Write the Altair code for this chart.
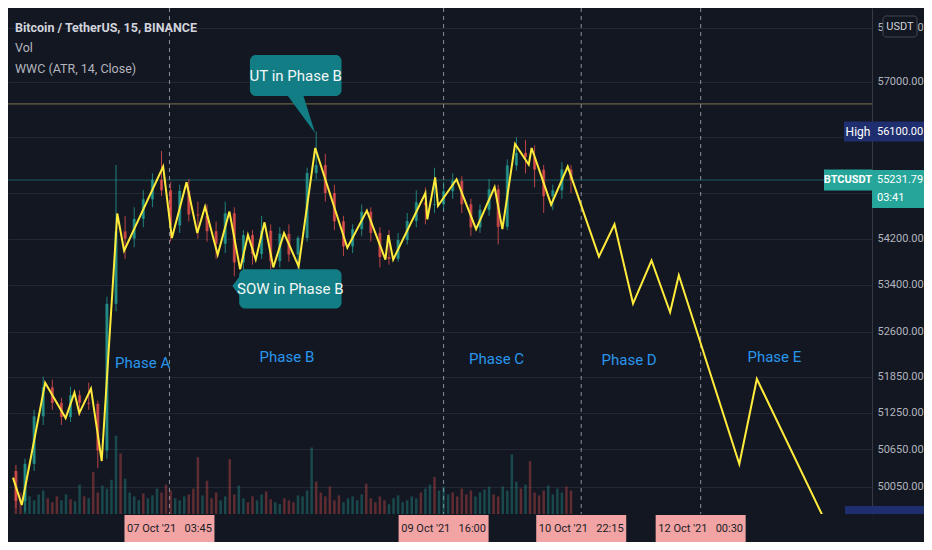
import altair as alt
import pandas as pd

W, H = 864, 506
RP = 52
BG = "#131722"
FONT = "Roboto"
GREEN = "#26a69a"
RED = "#ef5350"
YELLOW = "#ffeb3b"
TEAL = "#127d85"
NAVY = "#1f2e6e"
SALMON = "#f2a3a3"
AXIS_TXT = "#b2b5be"
GRID = "#232733"

# ---- time is in hours after 06 Oct 2021 00:00 ----
# 2-hour candles
candle_t = [-6, -4, -2, 0, 2, 4, 6, 8, 10, 12, 14, 16, 18, 20, 22, 24, 26, 28, 30, 32,
            34, 36, 38, 40, 42, 44, 46, 48, 50, 52, 54, 56, 58, 60, 62, 64, 66, 68, 70, 72,
            74, 76, 78, 80, 82, 84, 86, 88, 90, 92, 94, 96, 98, 100, 102, 104, 106, 108, 110, 112,
            114, 116]
candle_open = [50300, 49820, 50417, 51192, 51672, 51414, 51179, 51540, 51414, 51398,
               50633, 53077, 54328, 54201, 54546, 54891, 55236, 55051, 54432, 55040,
               54624, 54607, 54331, 54112, 54645, 53789, 54264, 53935, 54340, 53811,
               54285, 53925, 54212, 55357, 55500, 55002, 54504, 54065, 54368, 54671,
               54301, 53882, 53851, 54180, 54509, 54838, 54788, 54803, 55033, 55214,
               54804, 54395, 54705, 55069, 54409, 55491, 55716, 55641, 55416, 54946,
               55048, 55419]
candle_high = [50400, 50500, 51300, 51850, 51800, 51500, 51680, 51620, 51750, 51450,
               53200, 55500, 54600, 54750, 55050, 55350, 55750, 55200, 55150, 55250,
               54850, 54800, 54500, 54850, 54750, 54350, 54350, 54600, 54450, 54400,
               54450, 54250, 55450, 56100, 55700, 55150, 54600, 54450, 54800, 54750,
               54400, 54350, 54300, 54650, 55050, 55100, 55450, 55200, 55350, 55300,
               54900, 54800, 55250, 55150, 55600, 56000, 55950, 55850, 55500, 55150,
               55550, 55500]
candle_low = [49700, 49650, 50300, 51050, 51300, 51050, 51100, 51200, 51300, 50350,
              50500, 52950, 53850, 54050, 54400, 54750, 54950, 54150, 54300, 54500,
              54200, 54150, 53850, 53950, 53550, 53650, 53750, 53850, 53600, 53700,
              53800, 53650, 54150, 55250, 54850, 54350, 53900, 53950, 54250, 54150,
              53700, 53750, 53800, 54100, 54400, 54450, 54650, 54700, 54900, 54650,
              54250, 54300, 54600, 54100, 54350, 55400, 55350, 55100, 54650, 54700,
              54900, 55000]
candle_close = [49820, 50417, 51192, 51672, 51414, 51179, 51540, 51414, 51398, 50633,
                53077, 54328, 54201, 54546, 54891, 55236, 55051, 54432, 55040, 54624,
                54607, 54331, 54112, 54645, 53789, 54264, 53935, 54340, 53811, 54285,
                53925, 54212, 55357, 55500, 55002, 54504, 54065, 54368, 54671, 54301,
                53882, 53851, 54180, 54509, 54838, 54788, 54803, 55033, 55214, 54804,
                54395, 54705, 55069, 54409, 55491, 55716, 55641, 55416, 54946, 55048,
                55419, 55232]

# hourly volume (relative heights) and direction
vol_start = -6
vol_values = [28, 22, 30, 18, 14, 20,
              24, 16, 12, 18, 14, 20, 15, 13, 30, 18,
              16, 43, 22, 29, 26, 35, 80, 62, 36, 22,
              18, 14, 21, 16, 19, 26, 22, 30, 24, 16,
              14, 18, 20, 26, 58, 19, 34, 16, 22, 14,
              18, 56, 20, 29, 16, 12, 18, 14, 20, 23,
              15, 12, 10, 16, 14, 12, 19, 18, 24, 68,
              33, 22, 18, 28, 14, 19, 12, 16, 18, 14,
              20, 31, 16, 12, 18, 14, 10, 16, 19, 12,
              14, 18, 16, 22, 26, 30, 38, 24, 28, 20,
              22, 18, 26, 20, 24, 18, 22, 25, 28, 20,
              18, 28, 24, 61, 33, 26, 30, 54, 22, 19,
              24, 29, 20, 26, 22, 28, 24]
vol_dir = ("RRGGGG" "GRRRGGRGGR" "GRRGGGGRGG" "GGRGGGRRRG" "GGRRRGRRRG" "GRRGGRRGGR"
           "RGGRRRGGGG" "RRRRRRGGGG" "GRRRRRGGGG" "GGGRGGRGGG" "RRRRRGGGGR" "RGGGGRGRRR"
           "RGGGGRR")

# WWC zigzag
zz_h = [-6.64, -4.71, 0.43, 4.93, 6.86, 7.93, 10.5, 12.86, 16.28, 17.78,
        26.36, 28.28, 31.5, 33.86, 35.57, 38.35, 40.93, 43.28, 45.0, 46.71,
        48.64, 50.57, 52.93, 56.14, 59.78, 66.85, 71.14, 75.21, 75.85, 76.92,
        84.0, 84.42, 86.14, 86.78, 90.85, 95.14, 99.21, 100.92, 103.71, 106.71,
        107.35, 111.64, 115.28, 122.14, 125.56, 129.64, 133.7, 137.78, 139.7, 153.0,
        156.85, 172.0]
zz_p = [50193, 49754, 51746, 51164, 51584, 51245, 51650, 50462, 54640, 53991,
        55471, 54212, 55193, 54298, 54761, 53923, 54675, 53669, 54264, 53838,
        54486, 53703, 54298, 53720, 55804, 54042, 54692, 53838, 54264, 53838,
        55003, 54537, 55280, 54778, 55245, 54366, 55107, 54366, 55875, 55506,
        55804, 54796, 55471, 53889, 54451, 53082, 53821, 52932, 53568, 50414,
        51811, 49476]

# phases
phase_names = ["Phase A", "Phase B", "Phase C", "Phase D", "Phase E"]
phase_h = [21.86, 53.57, 99.64, 128.78, 160.7]
phase_p = [52073, 52171, 52138, 52122, 52171]

# callouts
callout_text = ["UT in Phase B", "SOW in Phase B"]
callout_h0 = [45.43, 43.07]
callout_h1 = [65.57, 65.57]
callout_top = [57497, 53669]
callout_bot = [56742, 52998]
callout_th = [55.5, 54.3]
callout_tp = [57119, 53333]
pointer_grp = ["UT", "UT", "UT", "SOW", "SOW"]
pointer_h = [53.78, 57.0, 59.78, 41.57, 43.5]
pointer_top = [56800, 56800, 56068, 53383, 53585]
pointer_bot = [56742, 56379, 56068, 53383, 53182]

# time axis
day_ticks = [0, 24, 48, 72, 96, 120, 144, 168]
marker_h = [27.75, 88.0, 118.25, 144.5]
marker_label = ["07 Oct '21\u2002 03:45", "09 Oct '21\u2002 16:00",
                "10 Oct '21\u2002 22:15", "12 Oct '21\u2002 00:30"]

# price axis
price_ticks = [50050, 50650, 51250, 51850, 52600, 53400, 54200, 55000, 56000, 57000, 58000]
high_price = 56100
last_price = 55231.79
last_time = "03:41"
level_price = 56600

header = ["Bitcoin / TetherUS, 15, BINANCE", "Vol", "WWC (ATR, 14, Close)"]

# ---------------- frames ----------------
candles = pd.DataFrame({"t": candle_t, "open": candle_open, "high": candle_high,
                        "low": candle_low, "close": candle_close})
candles["dir"] = ["up" if c >= o else "down" for o, c in zip(candle_open, candle_close)]
vol = pd.DataFrame({"t": list(range(vol_start, vol_start + len(vol_values))), "v": vol_values,
                    "dir": ["up" if d == "G" else "down" for d in vol_dir]})
zz = pd.DataFrame({"h": zz_h, "p": zz_p, "i": list(range(len(zz_h)))})
phases = pd.DataFrame({"name": phase_names, "h": phase_h, "p": phase_p})
callouts = pd.DataFrame({"txt": callout_text, "h0": callout_h0, "h1": callout_h1,
                         "top": callout_top, "bot": callout_bot, "th": callout_th, "tp": callout_tp})
pointers = pd.DataFrame({"grp": pointer_grp, "h": pointer_h, "top": pointer_top, "bot": pointer_bot})
markers = pd.DataFrame({"h": marker_h, "label": marker_label})

xscale = alt.Scale(domain=[-6.64, 181.06], nice=False, zero=False)
yscale = alt.Scale(type="log", domain=[49610, 58372], nice=False, zero=False)
col = alt.Color("dir:N", scale=alt.Scale(domain=["up", "down"], range=[GREEN, RED]), legend=None)


def X(f):
    return alt.X(f"{f}:Q", scale=xscale, axis=None)


def Y(f):
    return alt.Y(f"{f}:Q", scale=yscale, axis=None)


xaxis = alt.Axis(values=day_ticks, title=None, grid=True, gridColor=GRID, ticks=False,
                 domainColor="#363a45", labelColor=AXIS_TXT, labelFontSize=12, labelFont=FONT,
                 labelPadding=11, labelOverlap=False,
                 labelExpr="datum.value == 0 ? '6' : datum.value == 48 ? '8' : datum.value == 72 ? '9' : datum.value == 168 ? '13' : ''")
yaxis = alt.Axis(orient="right", values=price_ticks, title=None, grid=True, gridColor=GRID,
                 ticks=False, domainColor="#363a45", labelColor=AXIS_TXT, labelFontSize=11,
                 labelFont=FONT, labelPadding=5, labelOverlap=False, labelBaseline="middle",
                 labelExpr="(datum.value == 55000 || datum.value == 56000) ? '' : format(datum.value, '.2f')")

one = pd.DataFrame({"a": [0]})

level = alt.Chart(pd.DataFrame({"p": [level_price]})).mark_rule(
    color="#7d7650", strokeWidth=1).encode(y=Y("p"))
curline = alt.Chart(pd.DataFrame({"p": [last_price]})).mark_rule(
    color=GREEN, strokeWidth=1, opacity=0.5).encode(y=Y("p"))
dashed = alt.Chart(markers).mark_rule(color="#8c8f99", strokeDash=[4, 4], strokeWidth=1).encode(x=X("h"))

volume = alt.Chart(vol).mark_bar(size=2.5, opacity=0.35, clip=True).encode(
    x=X("t"),
    y=alt.Y("v:Q", scale=alt.Scale(domain=[0, 517], nice=False), axis=None),
    color=col)

wicks = alt.Chart(candles).mark_rule(strokeWidth=1, opacity=0.75, clip=True).encode(
    x=alt.X("t:Q", scale=xscale, axis=xaxis),
    y=alt.Y("low:Q", scale=yscale, axis=yaxis),
    y2="high:Q", color=col)
bodies = alt.Chart(candles).mark_bar(size=3, opacity=0.7, clip=True).encode(
    x=X("t"), y=Y("open"), y2="close:Q", color=col)

zigzag = alt.Chart(zz).mark_line(color=YELLOW, strokeWidth=2, clip=True).encode(
    x=X("h"), y=Y("p"), order="i:Q")

phase_txt = alt.Chart(phases).mark_text(color="#2996ec", fontSize=15, font=FONT).encode(
    x=X("h"), y=Y("p"), text="name:N")

ptr = alt.Chart(pointers).mark_area(color=TEAL).encode(
    x=X("h"), y=Y("top"), y2="bot:Q", detail="grp:N")
boxes = alt.Chart(callouts).mark_rect(color=TEAL, cornerRadius=6).encode(
    x=X("h0"), x2="h1:Q", y=Y("top"), y2="bot:Q")
box_txt = alt.Chart(callouts).mark_text(color="#f2f7f7", fontSize=15, font=FONT).encode(
    x=X("th"), y=Y("tp"), text="txt:N")

mk_box = alt.Chart(markers).mark_rule(color=SALMON, strokeWidth=90).encode(
    x=X("h"), y=alt.value(H + 1), y2=alt.value(H + 28))
mk_txt = alt.Chart(markers).mark_text(color="#1a1d26", fontSize=11, font=FONT, baseline="middle").encode(
    x=X("h"), y=alt.value(H + 15), text="label:N")

hp = pd.DataFrame({"p": [high_price], "tag": ["High"], "val": [f"{high_price:.2f}"]})
high_box = alt.Chart(hp).mark_rule(color=NAVY, strokeWidth=20).encode(
    y=Y("p"), x=alt.value(W - 28), x2=alt.value(W + RP))
high_tag = alt.Chart(hp).mark_text(color="#ffffff", fontSize=12, font=FONT, baseline="middle").encode(
    y=Y("p"), x=alt.value(W - 14), text="tag:N")
high_val = alt.Chart(hp).mark_text(color="#ffffff", fontSize=11, font=FONT, align="left",
                                   baseline="middle").encode(
    y=Y("p"), x=alt.value(W + 5), text="val:N")

lp = pd.DataFrame({"p": [last_price], "tag": ["BTCUSDT"], "val": [f"{last_price:.2f}"],
                   "tm": [last_time]})
last_tagbox = alt.Chart(lp).mark_rule(color=GREEN, strokeWidth=21).encode(
    y=Y("p"), x=alt.value(W - 48), x2=alt.value(W))
last_valbox = alt.Chart(lp).mark_rule(color=GREEN, strokeWidth=38, yOffset=9).encode(
    y=Y("p"), x=alt.value(W), x2=alt.value(W + RP))
last_tag = alt.Chart(lp).mark_text(color="#ffffff", fontSize=11, fontWeight="bold", font=FONT,
                                   baseline="middle").encode(
    y=Y("p"), x=alt.value(W - 24), text="tag:N")
last_val = alt.Chart(lp).mark_text(color="#ffffff", fontSize=11, font=FONT, align="left",
                                   baseline="middle").encode(
    y=Y("p"), x=alt.value(W + 5), text="val:N")
last_tm = alt.Chart(lp).mark_text(color="#ffffff", fontSize=11, font=FONT, align="left",
                                  baseline="middle", yOffset=18).encode(
    y=Y("p"), x=alt.value(W + 5), text="tm:N")

low_box = alt.Chart(one).mark_rect(color=NAVY).encode(
    x=alt.value(W - 27), x2=alt.value(W + RP), y=alt.value(H - 8), y2=alt.value(H))

usdt_box = alt.Chart(one).mark_rect(fill=BG, stroke="#434651", strokeWidth=1, cornerRadius=3).encode(
    x=alt.value(W + 11), x2=alt.value(W + 45), y=alt.value(8), y2=alt.value(29))
usdt_txt = alt.Chart(pd.DataFrame({"t": ["USDT"]})).mark_text(
    color="#d1d4dc", fontSize=11, font=FONT, baseline="middle").encode(
    x=alt.value(W + 28), y=alt.value(18.5), text="t:N")

head = []
for i, (line, yy) in enumerate(zip(header, [19.5, 40, 61])):
    head.append(alt.Chart(pd.DataFrame({"t": [line]})).mark_text(
        color="#d1d4dc" if i == 0 else AXIS_TXT, fontSize=12.5, font=FONT,
        fontWeight="bold" if i == 0 else "normal", align="left", baseline="middle").encode(
        x=alt.value(7), y=alt.value(yy), text="t:N"))

chart = alt.layer(
    level, curline, dashed, volume, wicks, bodies, zigzag, phase_txt,
    ptr, boxes, box_txt, mk_box, mk_txt,
    high_box, high_tag, high_val, last_tagbox, last_valbox, last_tag, last_val, last_tm,
    low_box, usdt_box, usdt_txt, *head
).resolve_scale(y="independent").properties(
    width=W, height=H,
    padding={"left": 0, "top": 0, "right": RP, "bottom": 28},
    autosize=alt.AutoSizeParams(type="none"),
    background=BG,
).configure_view(stroke=None)

chart.save("out.html", embed_options={"renderer": "svg", "actions": False})
